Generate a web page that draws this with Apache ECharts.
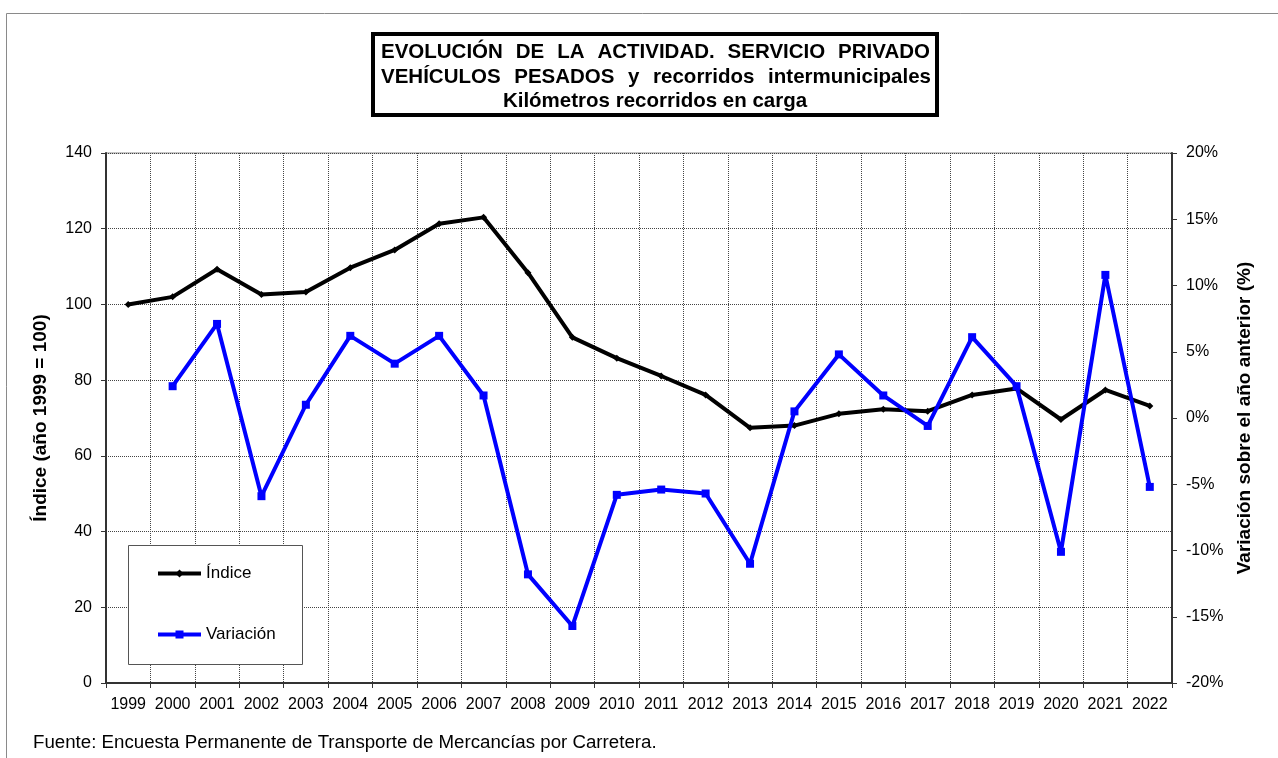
<!DOCTYPE html>
<html>
<head>
<meta charset="utf-8">
<title>Evolución de la actividad</title>
<script src="https://cdn.jsdelivr.net/npm/echarts@6/dist/echarts.min.js"></script>
<style>
  html, body { margin: 0; padding: 0; background: #ffffff; }
  #chart { width: 1278px; height: 758px; }
</style>
</head>
<body>
<div id="chart"></div>
<script>
// Years on the category axis
const years = ['1999', '2000', '2001', '2002', '2003', '2004', '2005', '2006', '2007', '2008', '2009', '2010',
               '2011', '2012', '2013', '2014', '2015', '2016', '2017', '2018', '2019', '2020', '2021', '2022'];

// Activity index (1999 = 100)
const indice = [100, 102.0, 109.3, 102.6, 103.3, 109.7, 114.4, 121.3, 123.0, 108.4, 91.3, 85.8,
                81.1, 76.1, 67.4, 68.0, 71.1, 72.3, 71.8, 76.1, 77.8, 69.6, 77.4, 73.2];

// Change over the previous year (%); no value for the base year
const variacion = [null, 2.4, 7.1, -5.9, 1.0, 6.2, 4.1, 6.2, 1.7, -11.8, -15.7, -5.8,
                   -5.4, -5.7, -11.0, 0.5, 4.8, 1.7, -0.6, 6.1, 2.4, -10.1, 10.8, -5.2];

// Texts
const titleLines = [
  'EVOLUCIÓN DE LA ACTIVIDAD. SERVICIO PRIVADO',
  'VEHÍCULOS PESADOS y recorridos intermunicipales',
  'Kilómetros recorridos en carga'
];
const leftAxisName = 'Índice (año 1999 = 100)';
const rightAxisName = 'Variación sobre el año anterior (%)';
const sourceNote = 'Fuente: Encuesta Permanente de Transporte de Mercancías por Carretera.';
const seriesNames = ['Índice', 'Variación'];

const FONT = '"Liberation Sans", Arial, Helvetica, sans-serif';
const TITLE_FONT = 'bold 20.5px ' + FONT;

// Lay out one line of words so that it fills [left, right] exactly
const measureCtx = document.createElement('canvas').getContext('2d');
function justifiedLine(text, left, right, y, font) {
  measureCtx.font = font;
  const words = text.split(' ');
  const widths = words.map(w => measureCtx.measureText(w).width);
  const used = widths.reduce((a, b) => a + b, 0);
  const gap = words.length > 1 ? (right - left - used) / (words.length - 1) : 0;
  let x = left;
  return words.map((w, i) => {
    const el = {
      type: 'text', x: x, y: y, z: 20,
      style: { text: w, font: font, fill: '#000', align: 'left', verticalAlign: 'middle' }
    };
    x += widths[i] + gap;
    return el;
  });
}

const titleElements = [].concat(
  justifiedLine(titleLines[0], 381, 930, 52, TITLE_FONT),
  justifiedLine(titleLines[1], 381, 931, 77, TITLE_FONT),
  [{
    type: 'text', x: 655, y: 101, z: 20,
    style: { text: titleLines[2], font: TITLE_FONT, fill: '#000', align: 'center', verticalAlign: 'middle' }
  }]
);

const chart = echarts.init(document.getElementById('chart'), null, { renderer: 'canvas' });

const option = {
  backgroundColor: '#ffffff',
  animation: false,
  textStyle: { fontFamily: FONT },
  grid: {
    left: 106, right: 106, top: 153, bottom: 75,
    show: true, borderColor: '#8c8c8c', borderWidth: 1, backgroundColor: 'transparent'
  },
  graphic: [
    // outer frame
    { type: 'rect', shape: { x: 6.5, y: 13.5, width: 1290, height: 760 }, z: 0,
      style: { fill: 'none', stroke: '#8a8a8a', lineWidth: 1 } },
    // title box
    { type: 'rect', shape: { x: 373, y: 34, width: 564, height: 81 }, z: 19,
      style: { fill: '#ffffff', stroke: '#000000', lineWidth: 4 } },
    // legend box
    { type: 'rect', shape: { x: 128.5, y: 545.5, width: 174, height: 119 }, z: 3,
      style: { fill: '#ffffff', stroke: '#555555', lineWidth: 1 } },
    // source note
    { type: 'text', x: 33, y: 743, z: 20,
      style: { text: sourceNote, font: '18.7px ' + FONT, fill: '#000', align: 'left', verticalAlign: 'middle' } }
  ].concat(titleElements),
  legend: {
    data: seriesNames,
    orient: 'vertical',
    left: 156,
    top: 565,
    itemWidth: 43,
    itemHeight: 10,
    itemGap: 44,
    padding: 0,
    z: 4,
    lineStyle: { width: 4 },
    textStyle: { fontSize: 17, color: '#000', fontFamily: FONT }
  },
  xAxis: {
    type: 'category',
    data: years,
    boundaryGap: true,
    axisLine: { lineStyle: { color: '#333', width: 2 } },
    axisTick: { show: true, length: 5, lineStyle: { color: '#333', width: 1 } },
    axisLabel: { interval: 0, fontSize: 16, color: '#000', margin: 14 },
    splitLine: { show: true, interval: 0, lineStyle: { type: 'dotted', color: '#444', width: 1 } }
  },
  yAxis: [
    {
      type: 'value',
      min: 0, max: 140, interval: 20,
      position: 'left',
      name: leftAxisName,
      nameLocation: 'middle',
      nameRotate: 90,
      nameGap: 56,
      nameTextStyle: { fontSize: 19, fontWeight: 'bold', color: '#000' },
      axisLine: { show: true, lineStyle: { color: '#333', width: 2 } },
      axisTick: { show: true, length: 5, lineStyle: { color: '#333', width: 1 } },
      axisLabel: { fontSize: 16, color: '#000', margin: 14 },
      splitLine: { show: true, lineStyle: { type: 'dotted', color: '#444', width: 1 } }
    },
    {
      type: 'value',
      min: -20, max: 20, interval: 5,
      position: 'right',
      name: rightAxisName,
      nameLocation: 'middle',
      nameRotate: 90,
      nameGap: 63,
      nameTextStyle: { fontSize: 19, fontWeight: 'bold', color: '#000' },
      axisLine: { show: true, lineStyle: { color: '#333', width: 2 } },
      axisTick: { show: true, length: 5, lineStyle: { color: '#333', width: 1 } },
      axisLabel: { fontSize: 16, color: '#000', margin: 14, formatter: v => v + '%' },
      splitLine: { show: false }
    }
  ],
  series: [
    {
      name: seriesNames[0],
      type: 'line',
      yAxisIndex: 0,
      data: indice,
      symbol: 'diamond',
      symbolSize: 7,
      color: '#000000',
      lineStyle: { width: 4, color: '#000000' },
      itemStyle: { color: '#000000' },
      z: 2
    },
    {
      name: seriesNames[1],
      type: 'line',
      yAxisIndex: 1,
      data: variacion,
      symbol: 'rect',
      symbolSize: 8,
      color: '#0000ff',
      lineStyle: { width: 4, color: '#0000ff' },
      itemStyle: { color: '#0000ff' },
      z: 3
    }
  ]
};

chart.setOption(option);
</script>
</body>
</html>
